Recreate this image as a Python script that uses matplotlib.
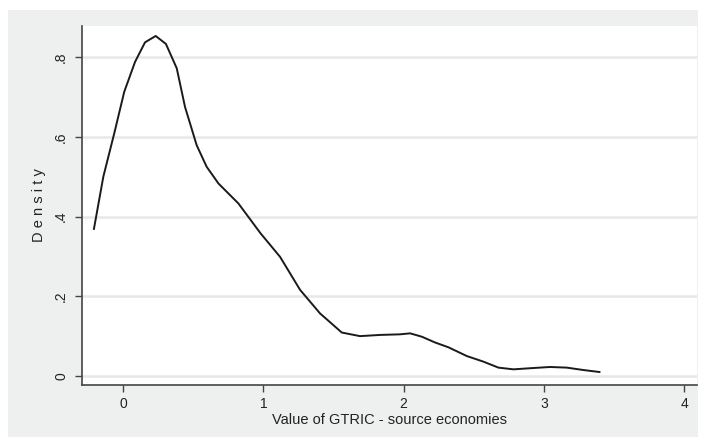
import matplotlib
matplotlib.use("Agg")
import matplotlib.pyplot as plt
from matplotlib.patches import Rectangle

# Kernel density estimate of GTRIC values (source economies)
gtric = [-0.207, -0.14, -0.062, 0.009, 0.086, 0.157, 0.233, 0.306, 0.383, 0.442,
         0.525, 0.596, 0.68, 0.822, 0.98, 1.119, 1.262, 1.404, 1.559, 1.689,
         1.832, 1.974, 2.046, 2.129, 2.224, 2.319, 2.45, 2.568, 2.675, 2.782,
         2.924, 3.043, 3.162, 3.28, 3.395]
density = [0.369, 0.50, 0.609, 0.713, 0.788, 0.837, 0.853, 0.833, 0.772, 0.675,
           0.579, 0.525, 0.483, 0.433, 0.358, 0.299, 0.216, 0.157, 0.109, 0.100,
           0.103, 0.1045, 0.107, 0.0986, 0.084, 0.072, 0.050, 0.036, 0.021, 0.0167,
           0.020, 0.0226, 0.021, 0.015, 0.010]

xticks = [0, 1, 2, 3, 4]
xticklabels = ["0", "1", "2", "3", "4"]
yticks = [0, 0.2, 0.4, 0.6, 0.8]
yticklabels = ["0", ".2", ".4", ".6", ".8"]

plt.rcParams["font.family"] = ["Liberation Sans", "DejaVu Sans"]

W, H = 703, 437
fig = plt.figure(figsize=(W / 100, H / 100), dpi=100)
fig.patch.set_facecolor("white")

# graph region background
fig.patches.append(Rectangle((8 / W, 0), (698 - 8) / W, (437 - 10) / H,
                             transform=fig.transFigure, facecolor="#eef0f0",
                             edgecolor="none", zorder=-1))

ax = fig.add_axes([82 / W, (H - 385) / H, (697 - 82) / W, (385 - 26) / H])
ax.set_zorder(2)
ax.set_facecolor("white")

ax.set_xlim(-0.292, 4.09)
ax.set_ylim(-0.0226, 0.878)

for v in yticks:
    ax.axhline(v, color="#e8e8e8", lw=1.8, zorder=1)

ax.plot(gtric, density, color="#1a1a1a", lw=1.4, zorder=3)

ax.set_xticks(xticks)
ax.set_xticklabels(xticklabels)
ax.set_yticks(yticks)
ax.set_yticklabels(yticklabels, rotation=90, va="center")

for s in ["top", "right"]:
    ax.spines[s].set_visible(False)
for s in ["left", "bottom"]:
    ax.spines[s].set_color("#444444")
    ax.spines[s].set_linewidth(1.2)

ax.tick_params(axis="both", direction="out", length=5, width=1.0,
               color="#444444", labelsize=10, labelcolor="#222222")
ax.tick_params(axis="x", pad=4)
ax.tick_params(axis="y", pad=5)

ax.set_xlabel("Value of GTRIC - source economies", fontsize=10.5,
              color="#222222", labelpad=1)
ax.set_ylabel("D e n s i t y", fontsize=10.5, color="#222222", labelpad=6)

fig.savefig("out.png", dpi=100, facecolor="white")
